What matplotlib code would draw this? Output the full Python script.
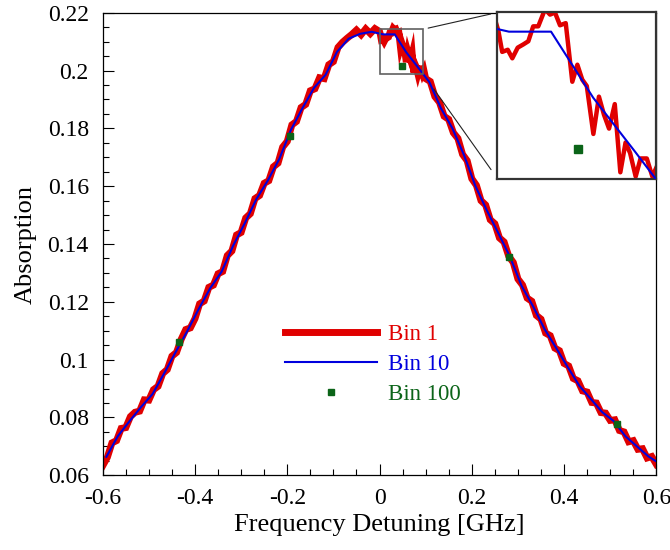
import matplotlib
matplotlib.use('Agg')
import matplotlib.pyplot as plt
from matplotlib.patches import Rectangle, ConnectionPatch
from matplotlib.ticker import MultipleLocator, FuncFormatter

plt.rcParams['font.family'] = ['Liberation Serif', 'DejaVu Serif']

# ---------------- data ----------------
bin1_x = [-0.60, -0.59, -0.58, -0.57, -0.56, -0.55, -0.54, -0.53, -0.52, -0.51,
          -0.50, -0.49, -0.48, -0.47, -0.46, -0.45, -0.44, -0.43, -0.42, -0.41,
          -0.40, -0.39, -0.38, -0.37, -0.36, -0.35, -0.34, -0.33, -0.32, -0.31,
          -0.30, -0.29, -0.28, -0.27, -0.26, -0.25, -0.24, -0.23, -0.22, -0.21,
          -0.20, -0.19, -0.18, -0.17, -0.16, -0.15, -0.14, -0.13, -0.12, -0.11,
          -0.10, -0.09, -0.08, -0.07, -0.06, -0.05, -0.04, -0.03, -0.02, -0.01,
          0.00,
          0.0017, 0.0040, 0.0073, 0.0100, 0.0132, 0.0165, 0.0195, 0.0224, 0.0254,
          0.0294, 0.0324, 0.0353, 0.0383, 0.0417, 0.0456, 0.0486, 0.0515, 0.0542,
          0.0581, 0.0614, 0.0644, 0.0674, 0.0708, 0.0741, 0.0772, 0.0799, 0.0832,
          0.0861, 0.0898, 0.0931, 0.0962,
          0.10, 0.11, 0.12, 0.13, 0.14, 0.15, 0.16, 0.17, 0.18, 0.19,
          0.20, 0.21, 0.22, 0.23, 0.24, 0.25, 0.26, 0.27, 0.28, 0.29,
          0.30, 0.31, 0.32, 0.33, 0.34, 0.35, 0.36, 0.37, 0.38, 0.39,
          0.40, 0.41, 0.42, 0.43, 0.44, 0.45, 0.46, 0.47, 0.48, 0.49,
          0.50, 0.51, 0.52, 0.53, 0.54, 0.55, 0.56, 0.57, 0.58, 0.59, 0.60]
bin1_y = [0.0633, 0.0662, 0.0712, 0.0720, 0.0762, 0.0765, 0.0803, 0.0818, 0.0822, 0.0861,
          0.0860, 0.0896, 0.0908, 0.0952, 0.0966, 0.1012, 0.1025, 0.1070, 0.1104, 0.1110,
          0.1142, 0.1193, 0.1203, 0.1250, 0.1258, 0.1297, 0.1305, 0.1360, 0.1376, 0.1431,
          0.1440, 0.1490, 0.1505, 0.1557, 0.1568, 0.1610, 0.1619, 0.1667, 0.1680, 0.1735,
          0.1755, 0.1812, 0.1824, 0.1872, 0.1883, 0.1930, 0.1937, 0.1975, 0.1972, 0.2020,
          0.2031, 0.2080, 0.2098, 0.2112, 0.2125, 0.2140, 0.2124, 0.2144, 0.2128, 0.2145,
          0.2135,
          0.2126, 0.2106, 0.2108, 0.2100, 0.2110, 0.2113, 0.2116, 0.2130, 0.2130,
          0.2146, 0.2141, 0.2143, 0.2131, 0.2133, 0.2078, 0.2094, 0.2080, 0.2074,
          0.2029, 0.2064, 0.2047, 0.2034, 0.2057, 0.1993, 0.2021, 0.2011, 0.1989,
          0.2006, 0.2006, 0.1989, 0.2000,
          0.1972, 0.1962, 0.1910, 0.1890, 0.1842, 0.1831, 0.1785, 0.1765, 0.1710, 0.1688,
          0.1626, 0.1603, 0.1550, 0.1535, 0.1484, 0.1470, 0.1421, 0.1407, 0.1358, 0.1336,
          0.1279, 0.1258, 0.1213, 0.1202, 0.1153, 0.1140, 0.1092, 0.1083, 0.1040, 0.1031,
          0.0987, 0.0978, 0.0935, 0.0927, 0.0892, 0.0888, 0.0852, 0.0850, 0.0817, 0.0815,
          0.0790, 0.0792, 0.0755, 0.0750, 0.0716, 0.0720, 0.0690, 0.0692, 0.0660, 0.0665,
          0.0638]

bin10_x = [-0.592, -0.567, -0.542, -0.517, -0.492, -0.467, -0.442, -0.417, -0.392, -0.367,
           -0.342, -0.317, -0.292, -0.267, -0.242, -0.217, -0.192, -0.167, -0.142, -0.117,
           -0.092, -0.067, -0.042, -0.017, 0.008, 0.033, 0.058, 0.083, 0.108, 0.133,
           0.158, 0.183, 0.208, 0.233, 0.258, 0.283, 0.308, 0.333, 0.358, 0.383,
           0.408, 0.433, 0.458, 0.483, 0.508, 0.533, 0.558, 0.583, 0.598]
bin10_y = [0.0664, 0.0736, 0.0787, 0.0836, 0.0881, 0.0952, 0.1026, 0.1098, 0.1175, 0.1247,
           0.1305, 0.1395, 0.1472, 0.1555, 0.1620, 0.1695, 0.1795, 0.1870, 0.1940, 0.1985,
           0.2065, 0.2110, 0.2127, 0.2134, 0.2125, 0.2125, 0.2063, 0.2012, 0.1960, 0.1870,
           0.1800, 0.1708, 0.1600, 0.1515, 0.1436, 0.1355, 0.1255, 0.1184, 0.1105, 0.1040,
           0.0974, 0.0910, 0.0864, 0.0818, 0.0787, 0.0735, 0.0700, 0.0665, 0.0650]

bin100_x = [-0.4339, -0.1933, 0.049, 0.2815, 0.5157]
bin100_y = [0.1060, 0.1773, 0.2015, 0.1356, 0.0777]

labels = ['Bin 1', 'Bin 10', 'Bin 100']
xticks = [-0.6, -0.4, -0.2, 0, 0.2, 0.4, 0.6]
yticks = [0.06, 0.08, 0.1, 0.12, 0.14, 0.16, 0.18, 0.2, 0.22]

# ---------------- style ----------------
RED = '#e00000'
BLUE = '#0000dd'
GREEN = '#0b6418'
inset_xlim = (0.0012, 0.0951)
inset_ylim = (0.1987, 0.2143)

fig = plt.figure(figsize=(6.7, 5.5), dpi=100)
ax = fig.add_axes([0.1533, 0.1358, 0.8263, 0.8411])

ax.plot(bin1_x, bin1_y, color=RED, lw=5.0, solid_joinstyle='miter', label=labels[0], zorder=2)
ax.plot(bin10_x, bin10_y, color=BLUE, lw=1.5, label=labels[1], zorder=3)
ax.plot(bin100_x, bin100_y, ls='none', marker='s', ms=5, color=GREEN, label=labels[2], zorder=4)

ax.set_xlim(-0.6, 0.6)
ax.set_ylim(0.06, 0.22)
ax.set_xticks(xticks)
ax.set_yticks(yticks)
fmt = FuncFormatter(lambda v, p: '%g' % round(v, 4))
ax.xaxis.set_major_formatter(fmt)
ax.yaxis.set_major_formatter(fmt)
ax.xaxis.set_minor_locator(MultipleLocator(0.05))
ax.yaxis.set_minor_locator(MultipleLocator(0.005))
ax.tick_params(which='both', direction='in', top=False, right=False, width=0.8, labelsize=17)
ax.tick_params(which='major', length=8)
ax.tick_params(which='minor', length=4.3)
ax.tick_params(axis='x', pad=9)
ax.tick_params(axis='y', pad=10)
for s in ax.spines.values():
    s.set_linewidth(0.9)
    s.set_color('black')

ax.set_xlabel('Frequency Detuning [GHz]', fontsize=19, labelpad=4)
ax.set_ylabel('Absorption', fontsize=19, labelpad=8)

leg = ax.legend(loc='upper left', bbox_to_anchor=(0.3285, 0.327), frameon=False,
                fontsize=16.5, handlelength=4.05, handletextpad=0.45, labelspacing=0.38,
                borderpad=0, borderaxespad=0, numpoints=1, labelcolor='linecolor')

# zoom rectangle
ax.add_patch(Rectangle((inset_xlim[0], inset_ylim[0]), inset_xlim[1] - inset_xlim[0],
                       inset_ylim[1] - inset_ylim[0], fill=False, edgecolor='#606060',
                       lw=1.2, zorder=5))

# inset
axins = fig.add_axes([0.7425, 0.6751, 0.2362, 0.3022])
axins.plot(bin1_x, bin1_y, color=RED, lw=3.2, zorder=2)
axins.plot(bin10_x, bin10_y, color=BLUE, lw=1.5, zorder=3)
axins.plot(bin100_x, bin100_y, ls='none', marker='s', ms=6, color=GREEN, zorder=4)
axins.set_xlim(*inset_xlim)
axins.set_ylim(*inset_ylim)
axins.set_xticks([])
axins.set_yticks([])
for s in axins.spines.values():
    s.set_linewidth(1.6)
    s.set_color('#333333')

con1 = ConnectionPatch(xyA=(inset_xlim[1], inset_ylim[1]), coordsA=ax.transData,
                       xyB=(inset_xlim[0], inset_ylim[1]), coordsB=axins.transData,
                       arrowstyle='-', shrinkA=3.5, shrinkB=5, lw=0.8, color='#222222')
con2 = ConnectionPatch(xyA=(inset_xlim[1], inset_ylim[0]), coordsA=ax.transData,
                       xyB=(inset_xlim[0], inset_ylim[0]), coordsB=axins.transData,
                       arrowstyle='-', shrinkA=13, shrinkB=8, lw=0.8, color='#222222')
fig.add_artist(con1)
fig.add_artist(con2)

fig.savefig('out.png', dpi=100)
